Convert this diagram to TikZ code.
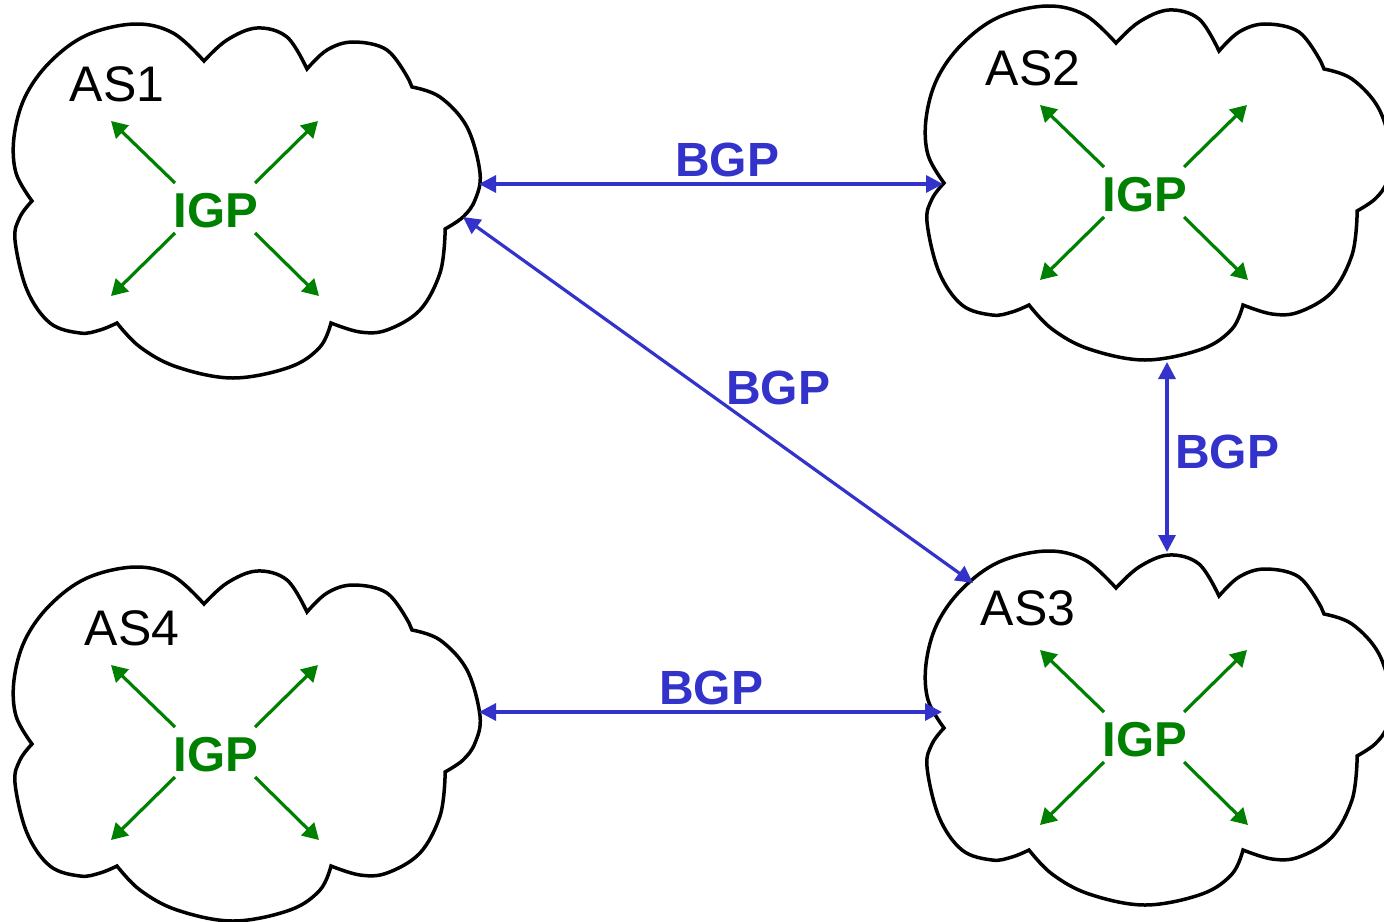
\documentclass[tikz,border=0pt]{standalone}
\usepackage{fontspec}
\setmainfont{Liberation Sans}
\usetikzlibrary{arrows.meta,calc}
\definecolor{bgpblue}{RGB}{51,51,204}
\definecolor{igpgreen}{RGB}{0,128,0}

% outline of one autonomous-system cloud, in its own frame
\newcommand\asoutline{%
  (32,201)
  -- plot[smooth,tension=0.6] coordinates {(32,201) (16,173) (14,137) (25,97) (50,62) (87,35) (135,24) (173,33) (204,61)}
  -- plot[smooth,tension=0.6] coordinates {(204,61) (227,40) (257,28) (287,37) (307,69)}
  -- plot[smooth,tension=0.6] coordinates {(307,69) (327,50) (353,42) (387,50) (409,80)}
  -- (412,87)
  -- plot[smooth,tension=0.6] coordinates {(412,87) (440,97) (467,127) (480,173) (475,200) (463,217) (445,229)}
  -- (445,235)
  -- plot[smooth,tension=0.6] coordinates {(445,235) (440,273) (420,310) (387,330) (360,332) (331,323)}
  -- plot[smooth,tension=0.6] coordinates {(331,323) (320,347) (290,367) (233,378) (177,367) (140,347) (117,323)}
  -- plot[smooth,tension=0.6] coordinates {(117,323) (100,330) (80,333) (50,323) (27,290) (15,240) (20,217) (32,201)}
  -- cycle}

% IGP label with its four outward arrows
\newcommand\igpstar[3]{%
  \node[igplabel] (#1) at (#2,#3) {IGP};
  \draw[igparrow] ($(#1)+(-41,-28)$) -- ($(#1)+(-105,-90)$);
  \draw[igparrow] ($(#1)+(39,-28)$) -- ($(#1)+(102,-90)$);
  \draw[igparrow] ($(#1)+(-41,22)$) -- ($(#1)+(-105,85)$);
  \draw[igparrow] ($(#1)+(39,22)$) -- ($(#1)+(103,85)$);
}

\begin{document}
\begin{tikzpicture}[x=0.5pt,y=-0.5pt,
  cloudline/.style={draw=black,line width=1.75pt,fill=white},
  aslabel/.style={inner sep=0pt,font=\fontsize{25}{30}\selectfont},
  igplabel/.style={inner sep=0pt,text=igpgreen,font=\fontsize{24.5}{29}\selectfont\bfseries},
  igparrow/.style={draw=igpgreen,line width=1.6pt,-{Triangle[length=8pt,width=9pt]}},
  bgparrow/.style={draw=bgpblue,line width=1.6pt,{Triangle[length=8.5pt,width=8.5pt]}-{Triangle[length=8.5pt,width=8.5pt]}},
  bgplabel/.style={inner sep=0pt,text=bgpblue,font=\fontsize{24}{29}\selectfont\bfseries},
]
\path[use as bounding box,fill=white] (0,0) rectangle (1384,921);

% the four clouds
\begin{scope}
  \clip (0,0) rectangle (1384,921);
  \foreach \dx/\dy in {0/0, 912/-18, 912/527, 0/543}{
    \begin{scope}[shift={(\dx,\dy)}]
      \draw[cloudline] \asoutline;
    \end{scope}
  }
\end{scope}

% AS names
\node[aslabel] (as1) at (117,84) {AS1};
\node[aslabel] (as2) at (1033,68) {AS2};
\node[aslabel] (as3) at (1028,608) {AS3};
\node[aslabel] (as4) at (132,628) {AS4};

% interior routing in each AS
\igpstar{igp1}{216}{211}
\igpstar{igp2}{1145}{195}
\igpstar{igp3}{1145}{740}
\igpstar{igp4}{216}{755}

% BGP sessions between the clouds
\coordinate (as1e) at (479,184);
\coordinate (as2w) at (943,184);
\coordinate (as1se) at (463,217);
\coordinate (as3nw) at (973,583);
\coordinate (as2s) at (1167,362);
\coordinate (as3n) at (1167,552);
\coordinate (as4e) at (479,712);
\coordinate (as3w) at (942,712);

\draw[bgparrow] (as1e) -- (as2w);
\draw[bgparrow] (as1se) -- (as3nw);
\draw[bgparrow] (as2s) -- (as3n);
\draw[bgparrow] (as4e) -- (as3w);

\node[bgplabel] (bgp12) at (727,160) {BGP};
\node[bgplabel] (bgp13) at (778,388) {BGP};
\node[bgplabel] (bgp23) at (1227,452) {BGP};
\node[bgplabel] (bgp43) at (711,688) {BGP};
\end{tikzpicture}
\end{document}
